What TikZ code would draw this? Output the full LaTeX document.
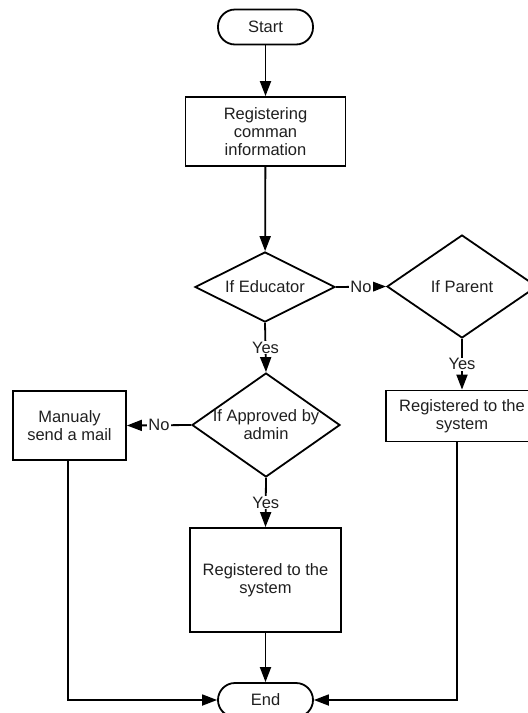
\documentclass[tikz,border=0pt]{standalone}
\usepackage{fontspec}
\setmainfont{Liberation Sans}
\usetikzlibrary{shapes.geometric,arrows.meta}
\begin{document}
\begin{tikzpicture}[x=1pt,y=-1pt,
  every node/.style={font=\fontsize{16.5}{18}\selectfont, text=black!88},
  flow/.style={line width=1.8pt, draw=black, -{Triangle[length=15pt,width=11pt]}},
  terminal/.style={draw, line width=1.8pt, rectangle, rounded corners=17pt, minimum width=95pt, minimum height=35pt, inner sep=0pt},
  procbox/.style={draw, line width=1.8pt, rectangle, inner sep=0pt, align=center},
  decision/.style={draw, line width=1.8pt, diamond, inner sep=0pt},
  tag/.style={fill=white, inner sep=1pt}]
  \useasboundingbox (0,0) rectangle (528,713);
  \clip (0,0) rectangle (528,713);

  % terminals
  \node[terminal] (start) at (265.5,27) {Start};
  \node[terminal, minimum height=34pt] (end) at (265.5,700) {End};

  % process boxes
  \node[procbox, minimum width=160pt, minimum height=69pt] (reg) at (265.5,131.5)
    {Registering\\comman\\information};
  \node[procbox, minimum width=113pt, minimum height=69pt] (mail) at (69.5,425.5)
    {Manualy\\send a mail};
  \node[procbox, minimum width=152pt, minimum height=51pt] (regP) at (462,416)
    {Registered to the\\system};
  \node[procbox, minimum width=151pt, minimum height=104pt] (regE) at (265.5,580)
    {Registered to the\\system};

  % decisions
  \node[decision, minimum width=140pt, minimum height=70pt] (edu) at (265,287) {};
  \node (eduT) at (edu.center) {If Educator};
  \node[decision, minimum width=150pt, minimum height=103pt] (par) at (462,286.5) {};
  \node (parT) at (par.center) {If Parent};
  \node[decision, minimum width=148pt, minimum height=104pt] (app) at (266,425) {};
  \node[align=center] (appT) at (app.center) {If Approved by\\admin};

  % connectors
  \draw[flow] (start) -- (reg);
  \draw[flow] (reg) -- (edu);
  \draw[flow] (edu.east) -- node[tag] (no1) {No} (par.west);
  \draw[flow] (edu.south) -- node[tag] (yes1) {Yes} (app.north);
  \draw[flow] (par.south) -- node[tag] (yes2) {Yes} (regP.north);
  \draw[flow] (app.west) -- node[tag] (no2) {No} (mail.east);
  \draw[flow] (app.south) -- node[tag] (yes3) {Yes} (regE.north);
  \draw[flow] (regE) -- (end);
  \draw[flow] ([xshift=-1.5pt]mail.south) |- (end.west);
  \draw[flow] ([xshift=-5pt]regP.south) |- (end.east);
\end{tikzpicture}
\end{document}
